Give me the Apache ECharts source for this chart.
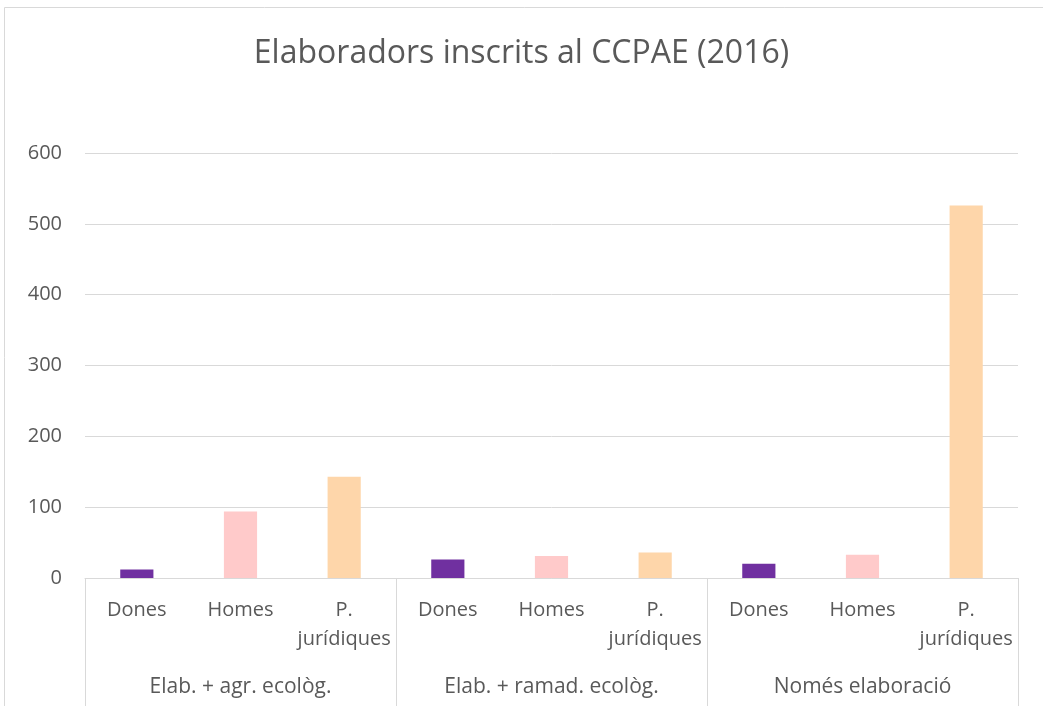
<!doctype html>
<html>
<head>
	<meta charset="utf-8">
	<title>Elaboradors inscrits al CCPAE (2016)</title>
	<script type="text/javascript" src="https://cdn.jsdelivr.net/npm/echarts@6/dist/echarts.min.js"></script>
	<style>
		html, body { margin: 0; padding: 0; background: #fff; }
	</style>
</head>
<body>
	<div id="main" style="width: 1043px;height:706px;"></div>
	<script type="text/javascript">
		// dades
		var grups = ['Elab. + agr. ecològ.', 'Elab. + ramad. ecològ.', 'Només elaboració'];
		var tipus = ['Dones', 'Homes', 'P.\njurídiques'];
		var agr = [12, 94, 143];
		var ramad = [26, 31, 36];
		var nomesElab = [20, 33, 526];
		var colors = ['#7030a0', '#ffcaca', '#fed6aa'];

		var cats = [];
		var vals = [];
		[agr, ramad, nomesElab].forEach(function (g) {
			g.forEach(function (v, i) {
				cats.push(tipus[i]);
				vals.push({ value: v, itemStyle: { color: colors[i] } });
			});
		});

		var txt = '#595959';
		var font = 'Open Sans';
		var myChart = echarts.init(document.getElementById('main'));
		var option = {
			animation: false,
			textStyle: { fontFamily: font },
			title: {
				text: 'Elaboradors inscrits al CCPAE (2016)',
				left: 'center',
				top: 33,
				textStyle: { color: txt, fontSize: 32, fontWeight: 'normal', fontFamily: font }
			},
			graphic: [{
				type: 'rect',
				shape: { x: 4.5, y: 7.5, width: 1100, height: 800 },
				style: { fill: 'none', stroke: '#d9d9d9', lineWidth: 1 },
				silent: true
			}],
			grid: { left: 85, right: 25, top: 153, bottom: 128 },
			xAxis: [{
				type: 'category',
				data: cats,
				position: 'bottom',
				axisLine: { lineStyle: { color: '#d9d9d9', width: 1 } },
				axisTick: { show: false },
				axisLabel: { color: txt, fontSize: 20, lineHeight: 29, margin: 18, interval: 0, fontFamily: font }
			}, {
				type: 'category',
				data: grups,
				position: 'bottom',
				axisLine: { show: false },
				axisTick: { show: true, length: 130, lineStyle: { color: '#d9d9d9', width: 1 } },
				axisLabel: { color: txt, fontSize: 21, lineHeight: 29, margin: 95, interval: 0, fontFamily: font }
			}],
			yAxis: {
				type: 'value',
				min: 0,
				max: 600,
				interval: 100,
				axisLine: { show: false },
				axisTick: { show: false },
				splitLine: { lineStyle: { color: '#d9d9d9', width: 1 } },
				axisLabel: { color: txt, fontSize: 20, margin: 23, fontFamily: font }
			},
			series: [{
				type: 'bar',
				xAxisIndex: 0,
				data: vals,
				barWidth: '32%'
			}]
		};
		myChart.setOption(option);
	</script>
</body>
</html>
